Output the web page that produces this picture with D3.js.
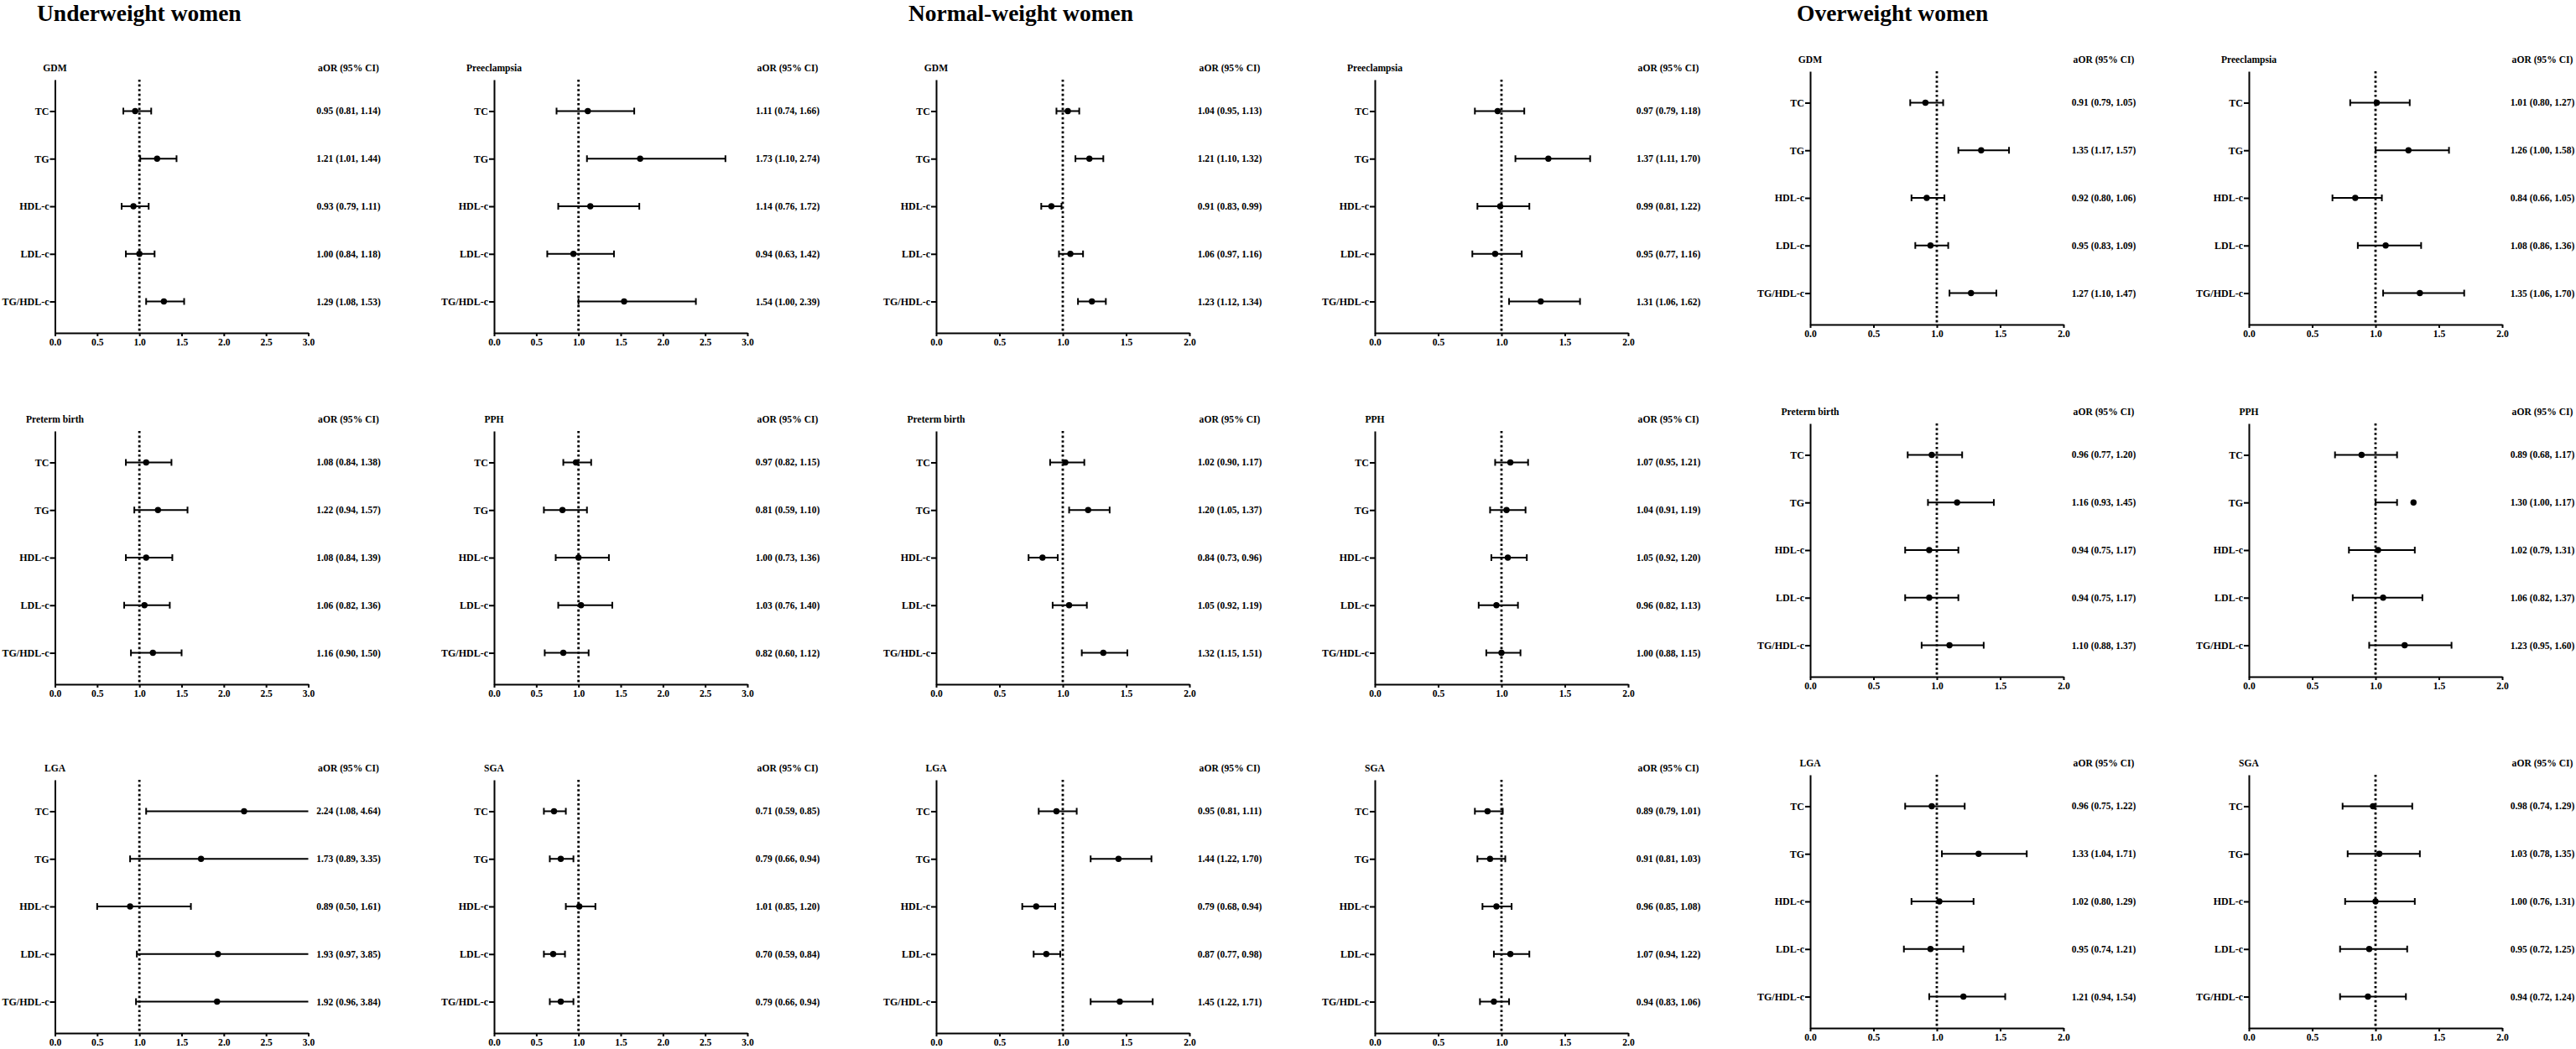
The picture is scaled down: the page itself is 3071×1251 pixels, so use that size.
<!DOCTYPE html>
<html>
<head>
<meta charset="utf-8">
<script src="https://cdn.jsdelivr.net/npm/d3@7"></script>
<style>
  body { margin: 0; background: #fff; }
  text { font-family: "Liberation Serif", "Times New Roman", serif; font-weight: bold; fill: #000; }
  .axis path, .axis line { stroke: #000; stroke-width: 2; }
  .axis text { font-size: 11.6px; }
</style>
</head>
<body>
<div id="chart"></div>
<script>
const groups   = ["Underweight women", "Normal-weight women", "Overweight women"];
const outcomes = ["GDM", "Preeclampsia", "Preterm birth", "PPH", "LGA", "SGA"];
const lipids   = ["TC", "TG", "HDL-c", "LDL-c", "TG/HDL-c"];
const xMax     = [3, 2, 2];
const ticks3   = [0, 0.5, 1.0, 1.5, 2.0, 2.5, 3.0];
const ticks2   = [0, 0.5, 1.0, 1.5, 2.0];

// rows = outcomes, columns = lipids
const underOR = [
  [0.95, 1.21, 0.93, 1.00, 1.29],
  [1.11, 1.73, 1.14, 0.94, 1.54],
  [1.08, 1.22, 1.08, 1.06, 1.16],
  [0.97, 0.81, 1.00, 1.03, 0.82],
  [2.24, 1.73, 0.89, 1.93, 1.92],
  [0.71, 0.79, 1.01, 0.70, 0.79]
];
const underLo = [
  [0.81, 1.01, 0.79, 0.84, 1.08],
  [0.74, 1.10, 0.76, 0.63, 1.00],
  [0.84, 0.94, 0.84, 0.82, 0.90],
  [0.82, 0.59, 0.73, 0.76, 0.60],
  [1.08, 0.89, 0.50, 0.97, 0.96],
  [0.59, 0.66, 0.85, 0.59, 0.66]
];
const underHi = [
  [1.14, 1.44, 1.11, 1.18, 1.53],
  [1.66, 2.74, 1.72, 1.42, 2.39],
  [1.38, 1.57, 1.39, 1.36, 1.50],
  [1.15, 1.10, 1.36, 1.40, 1.12],
  [4.64, 3.35, 1.61, 3.85, 3.84],
  [0.85, 0.94, 1.20, 0.84, 0.94]
];

const normalOR = [
  [1.04, 1.21, 0.91, 1.06, 1.23],
  [0.97, 1.37, 0.99, 0.95, 1.31],
  [1.02, 1.20, 0.84, 1.05, 1.32],
  [1.07, 1.04, 1.05, 0.96, 1.00],
  [0.95, 1.44, 0.79, 0.87, 1.45],
  [0.89, 0.91, 0.96, 1.07, 0.94]
];
const normalLo = [
  [0.95, 1.10, 0.83, 0.97, 1.12],
  [0.79, 1.11, 0.81, 0.77, 1.06],
  [0.90, 1.05, 0.73, 0.92, 1.15],
  [0.95, 0.91, 0.92, 0.82, 0.88],
  [0.81, 1.22, 0.68, 0.77, 1.22],
  [0.79, 0.81, 0.85, 0.94, 0.83]
];
const normalHi = [
  [1.13, 1.32, 0.99, 1.16, 1.34],
  [1.18, 1.70, 1.22, 1.16, 1.62],
  [1.17, 1.37, 0.96, 1.19, 1.51],
  [1.21, 1.19, 1.20, 1.13, 1.15],
  [1.11, 1.70, 0.94, 0.98, 1.71],
  [1.01, 1.03, 1.08, 1.22, 1.06]
];

const overOR = [
  [0.91, 1.35, 0.92, 0.95, 1.27],
  [1.01, 1.26, 0.84, 1.08, 1.35],
  [0.96, 1.16, 0.94, 0.94, 1.10],
  [0.89, 1.30, 1.02, 1.06, 1.23],
  [0.96, 1.33, 1.02, 0.95, 1.21],
  [0.98, 1.03, 1.00, 0.95, 0.94]
];
const overLo = [
  [0.79, 1.17, 0.80, 0.83, 1.10],
  [0.80, 1.00, 0.66, 0.86, 1.06],
  [0.77, 0.93, 0.75, 0.75, 0.88],
  [0.68, 1.00, 0.79, 0.82, 0.95],
  [0.75, 1.04, 0.80, 0.74, 0.94],
  [0.74, 0.78, 0.76, 0.72, 0.72]
];
const overHi = [
  [1.05, 1.57, 1.06, 1.09, 1.47],
  [1.27, 1.58, 1.05, 1.36, 1.70],
  [1.20, 1.45, 1.17, 1.17, 1.37],
  [1.17, 1.17, 1.31, 1.37, 1.60],
  [1.22, 1.71, 1.29, 1.21, 1.54],
  [1.29, 1.35, 1.31, 1.25, 1.24]
];

const ors = [underOR, normalOR, overOR];
const los = [underLo, normalLo, overLo];
const his = [underHi, normalHi, overHi];

const width = 3071, height = 1251;
const panelW = 302, panelH = 302;
const colX   = [65.5, 589, 1116, 1639, 2158, 2681];
const rowTop = [[95, 514, 930], [95, 514, 930], [85, 505, 924]];
const titleX = [44, 1083, 2142];

const svg = d3.select("#chart")
  .append("svg")
    .attr("width", width)
    .attr("height", height);

const f2 = d3.format(".2f");

groups.forEach((grp, gi) => {
  svg.append("text")
    .attr("x", titleX[gi])
    .attr("y", 25)
    .style("font-size", "27.5px")
    .text(grp);

  outcomes.forEach((out, oi) => {
    const g = svg.append("g")
      .attr("transform", `translate(${colX[gi * 2 + oi % 2]},${rowTop[gi][Math.floor(oi / 2)]})`);

    const x = d3.scaleLinear()
      .domain([0, xMax[gi]])
      .range([0, panelW]);

    const y = d3.scalePoint()
      .domain(lipids)
      .range([0, panelH])
      .padding(0.66);

    const rows = lipids.map((lip, li) => ({
      lip,
      or: ors[gi][oi][li],
      lo: los[gi][oi][li],
      hi: his[gi][oi][li]
    }));

    g.append("g")
      .attr("class", "axis")
      .attr("transform", `translate(0,${panelH})`)
      .call(d3.axisBottom(x)
        .tickValues(xMax[gi] === 3 ? ticks3 : ticks2)
        .tickFormat(d3.format(".1f"))
        .tickSize(4)
        .tickSizeOuter(0)
        .tickPadding(2.5));

    g.append("g")
      .attr("class", "axis")
      .call(d3.axisLeft(y)
        .tickSize(6)
        .tickSizeOuter(0)
        .tickPadding(1))
      .selectAll("text")
        .style("font-size", "12px");

    // reference line at aOR = 1
    g.append("line")
      .attr("x1", x(1)).attr("x2", x(1))
      .attr("y1", 0).attr("y2", panelH)
      .attr("stroke", "#000")
      .attr("stroke-width", 2.8)
      .attr("stroke-dasharray", "2.6,3");

    const bars = g.selectAll("g.bar")
      .data(rows)
      .join("g")
        .attr("class", "bar")
        .attr("transform", d => `translate(0,${y(d.lip)})`);

    bars.append("line")
      .attr("x1", d => x(d.lo))
      .attr("x2", d => x(Math.min(d.hi, xMax[gi])))
      .attr("stroke", "#000")
      .attr("stroke-width", 2);

    bars.append("line")
      .attr("x1", d => x(d.lo)).attr("x2", d => x(d.lo))
      .attr("y1", -4).attr("y2", 4)
      .attr("stroke", "#000")
      .attr("stroke-width", 2);

    // upper cap only when the interval ends inside the axis
    bars.filter(d => d.hi <= xMax[gi])
      .append("line")
      .attr("x1", d => x(d.hi)).attr("x2", d => x(d.hi))
      .attr("y1", -4).attr("y2", 4)
      .attr("stroke", "#000")
      .attr("stroke-width", 2);

    bars.append("circle")
      .attr("cx", d => x(d.or))
      .attr("r", 3.7)
      .attr("fill", "#000");

    g.selectAll("text.val")
      .data(rows)
      .join("text")
        .attr("class", "val")
        .attr("x", 350)
        .attr("y", d => y(d.lip))
        .attr("dy", "0.35em")
        .attr("text-anchor", "middle")
        .style("font-size", "11.5px")
        .text(d => `${f2(d.or)} (${f2(d.lo)}, ${f2(d.hi)})`);

    g.append("text")
      .attr("x", 0)
      .attr("y", -10)
      .attr("text-anchor", "middle")
      .style("font-size", "11.6px")
      .text(out);

    g.append("text")
      .attr("x", 350)
      .attr("y", -10)
      .attr("text-anchor", "middle")
      .style("font-size", "11.6px")
      .text("aOR (95% CI)");
  });
});
</script>
</body>
</html>
